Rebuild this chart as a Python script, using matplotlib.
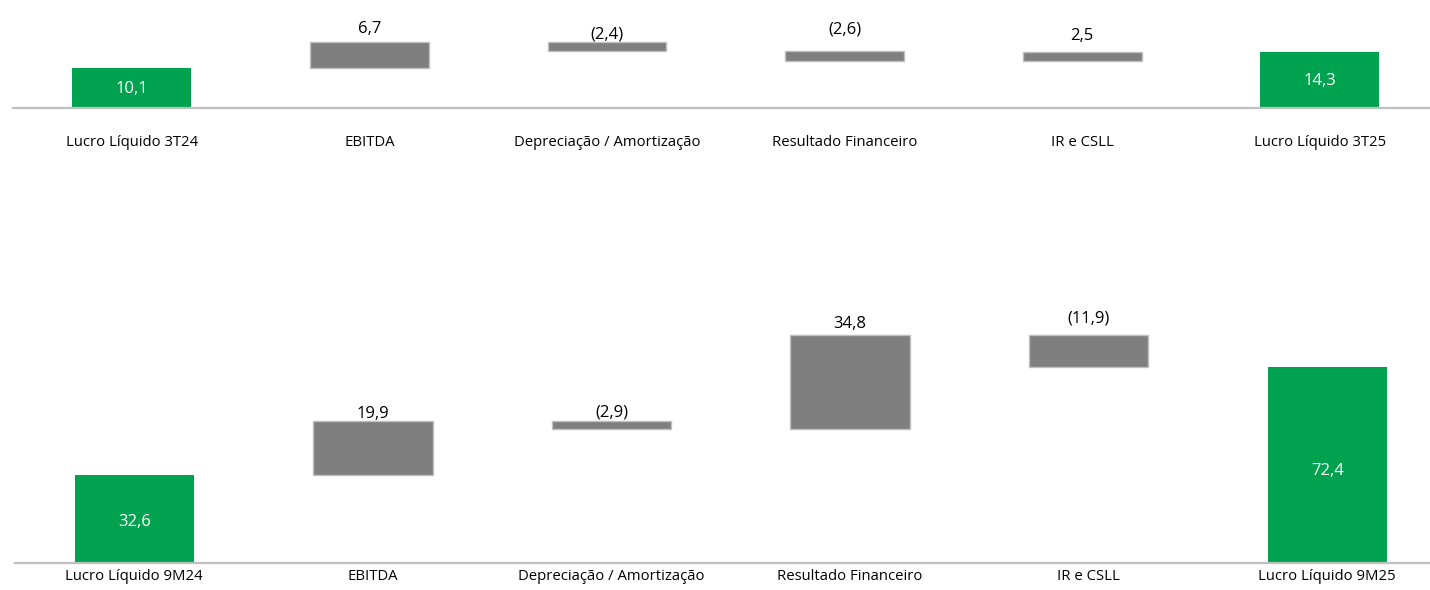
import numpy as np
import matplotlib
matplotlib.use('Agg')
import matplotlib.pyplot as plt

plt.rcParams['font.family'] = ['Open Sans', 'DejaVu Sans']

# Data
top_categories = ['Lucro Líquido 3T24', 'EBITDA', 'Depreciação / Amortização',
                  'Resultado Financeiro', 'IR e CSLL', 'Lucro Líquido 3T25']
top_values = [10.1, 6.7, -2.4, -2.6, 2.5, 14.3]
top_labels = ['10,1', '6,7', '(2,4)', '(2,6)', '2,5', '14,3']

bottom_categories = ['Lucro Líquido 9M24', 'EBITDA', 'Depreciação / Amortização',
                     'Resultado Financeiro', 'IR e CSLL', 'Lucro Líquido 9M25']
bottom_values = [32.6, 19.9, -2.9, 34.8, -11.9, 72.4]
bottom_labels = ['32,6', '19,9', '(2,9)', '34,8', '(11,9)', '72,4']

GREEN = '#00A14F'
GRAY = '#7F7F7F'
EDGE = '#BFBFBF'
W, H = 1430, 590


def waterfall(ax, categories, values, labels, label_offsets, cat_pad):
    """Draw a Waterfall Chart with Totals at Both Ends."""
    x = np.arange(len(values))
    running = 0.0
    for i, (v, lab) in enumerate(zip(values, labels)):
        if i == 0 or i == len(values) - 1:
            # Total bar from zero
            ax.bar(x[i], v, width=0.5, color=GREEN, zorder=2)
            ax.text(x[i], v * 0.47, lab, ha='center', va='center',
                    color='white', fontsize=12)
            running = v
        else:
            ax.bar(x[i], v, bottom=running, width=0.5, color=GRAY,
                   edgecolor=EDGE, linewidth=1.0, zorder=2)
            top = max(running, running + v)
            ax.annotate(lab, (x[i], top), xytext=(0, label_offsets[i]),
                        textcoords='offset points', ha='center', va='baseline',
                        fontsize=12, color='black')
            running += v

    for s in ['top', 'left', 'right']:
        ax.spines[s].set_visible(False)
    ax.spines['bottom'].set_color(EDGE)
    ax.spines['bottom'].set_linewidth(1.6)
    ax.spines['bottom'].set_zorder(5)
    ax.set_yticks([])
    ax.set_xticks(x, categories)
    ax.tick_params(axis='x', length=0, pad=cat_pad, labelsize=10.7)


fig = plt.figure(figsize=(W / 100, H / 100), dpi=100)

# Top chart (3T)
ax1 = fig.add_axes([13 / W, 1 - 108 / H, (W - 13) / W, 108 / H])
waterfall(ax1, top_categories, top_values, top_labels,
          [0, 6.5, 2, 13, 8.5, 0], 19.5)
ax1.set_xlim(-0.5, -0.5 + (W - 13) / 237.6)
ax1.set_ylim(0, 108 / 3.95)

# Bottom chart (9M) - labels nudged up so they stay inside the canvas
ax2 = fig.add_axes([15 / W, 1 - 563 / H, (W - 15) / W, 373 / H])
waterfall(ax2, bottom_categories, bottom_values, bottom_labels,
          [0, 2, 3.5, 5, 8.5, 0], 4.5)
ax2.set_xlim(-0.5, -0.5 + (W - 15) / 238.6)
ax2.set_ylim(0, 373 / 2.707)

fig.savefig('out.png', dpi=100, facecolor='white')
